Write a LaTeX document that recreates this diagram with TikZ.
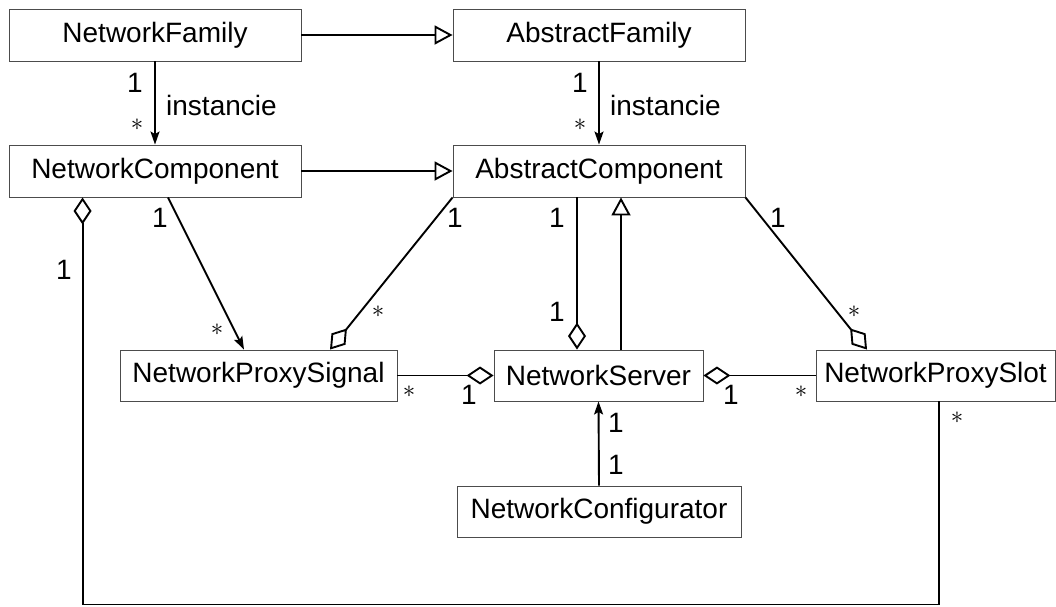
\documentclass[tikz,border=0pt]{standalone}
\usepackage{fontspec}
\setmainfont{Liberation Sans}
\usetikzlibrary{arrows.meta,calc}
\begin{document}
\begin{tikzpicture}[x=1pt,y=1pt,
  cls/.style={draw=black!70, line width=0.9pt, fill=white, inner sep=0pt,
    minimum height=52pt, font=\fontsize{28}{33}\selectfont},
  lbl/.style={inner sep=0pt, font=\fontsize{28}{33}\selectfont},
  star/.style={inner sep=0pt, font=\fontsize{31}{33}\selectfont},
  conn/.style={line width=1.9pt},
  inh/.style={conn, -{Triangle[open,length=18pt,width=19pt]}},
  agg/.style={conn, -{Diamond[open,length=27pt,width=18pt]}},
  aggstart/.style={conn, {Diamond[open,length=27pt,width=18pt]}-},
  nav/.style={conn, -{Stealth[length=13pt,width=9pt,inset=2.5pt]}}]
\useasboundingbox (0,0) rectangle (1056,-606);

% classes
\node[cls, minimum width=292pt] (nf) at (155,-35) {NetworkFamily};
\node[cls, minimum width=292pt] (af) at (599,-35) {AbstractFamily};
\node[cls, minimum width=292pt] (nc) at (155,-171) {NetworkComponent};
\node[cls, minimum width=292pt] (ac) at (599,-171) {AbstractComponent};
\node[cls, minimum width=277pt, minimum height=51pt] (ps) at (258.5,-375.5) {NetworkProxySignal};
\node[cls, minimum width=209pt, minimum height=51pt] (ns) at (598.5,-375.5) {NetworkServer};
\node[cls, minimum width=239pt, minimum height=51pt] (sl) at (935.5,-375.5) {NetworkProxySlot};
\node[cls, minimum width=284pt, minimum height=51pt] (cf) at (599,-511.5) {NetworkConfigurator};

% connectors
\draw[inh] (nf.east) -- (af.west);
\draw[inh] (nc.east) -- (ac.west);
\draw[nav] (nf.south) -- (nc.north);
\draw[nav] (af.south) -- (ac.north);
\draw[nav] ([xshift=13pt]nc.south) -- ([xshift=-14.5pt]ps.north);
\draw[agg] (ac.south west) -- ([xshift=71.5pt]ps.north);
\draw[agg] ([xshift=-22pt]ac.south) -- ([xshift=-21.5pt]ns.north);
\draw[inh] ([xshift=22.5pt]ns.north) -- ([xshift=22pt]ac.south);
\draw[agg] (ac.south east) -- ([xshift=-68.5pt]sl.north);
\draw[agg] (ps.east) -- (ns.west);
\draw[aggstart] (ns.east) -- (sl.west);
\draw[nav] (cf.north) -- (ns.south);
\draw[aggstart] ([xshift=74pt]nc.south west) |- ([xshift=3.5pt,yshift=-203pt]sl.south) -- ([xshift=3.5pt]sl.south);

% labels
\node[lbl] (m1) at (135,-83) {1};
\node[star] (m2) at (137,-125) {$*$};
\node[lbl, anchor=west] (i1) at (166,-105) {instancie};
\node[lbl] (m3) at (580,-83) {1};
\node[star] (m4) at (580,-125) {$*$};
\node[lbl, anchor=west] (i2) at (610,-105) {instancie};
\node[lbl] (m5) at (160,-218) {1};
\node[star] (m6) at (217,-330) {$*$};
\node[lbl] (m7) at (455,-218) {1};
\node[star] (m8) at (378,-312) {$*$};
\node[lbl] (m9) at (64,-270) {1};
\node[star] (m10) at (409,-392) {$*$};
\node[lbl] (m11) at (469,-395) {1};
\node[lbl] (m12) at (557,-218) {1};
\node[lbl] (m13) at (557,-312) {1};
\node[lbl] (m14) at (778,-218) {1};
\node[star] (m15) at (854,-312) {$*$};
\node[lbl] (m16) at (731,-395) {1};
\node[star] (m17) at (801,-392) {$*$};
\node[lbl] (m18) at (616,-423) {1};
\node[lbl] (m19) at (616,-465) {1};
\node[star] (m20) at (957,-418) {$*$};
\end{tikzpicture}
\end{document}
